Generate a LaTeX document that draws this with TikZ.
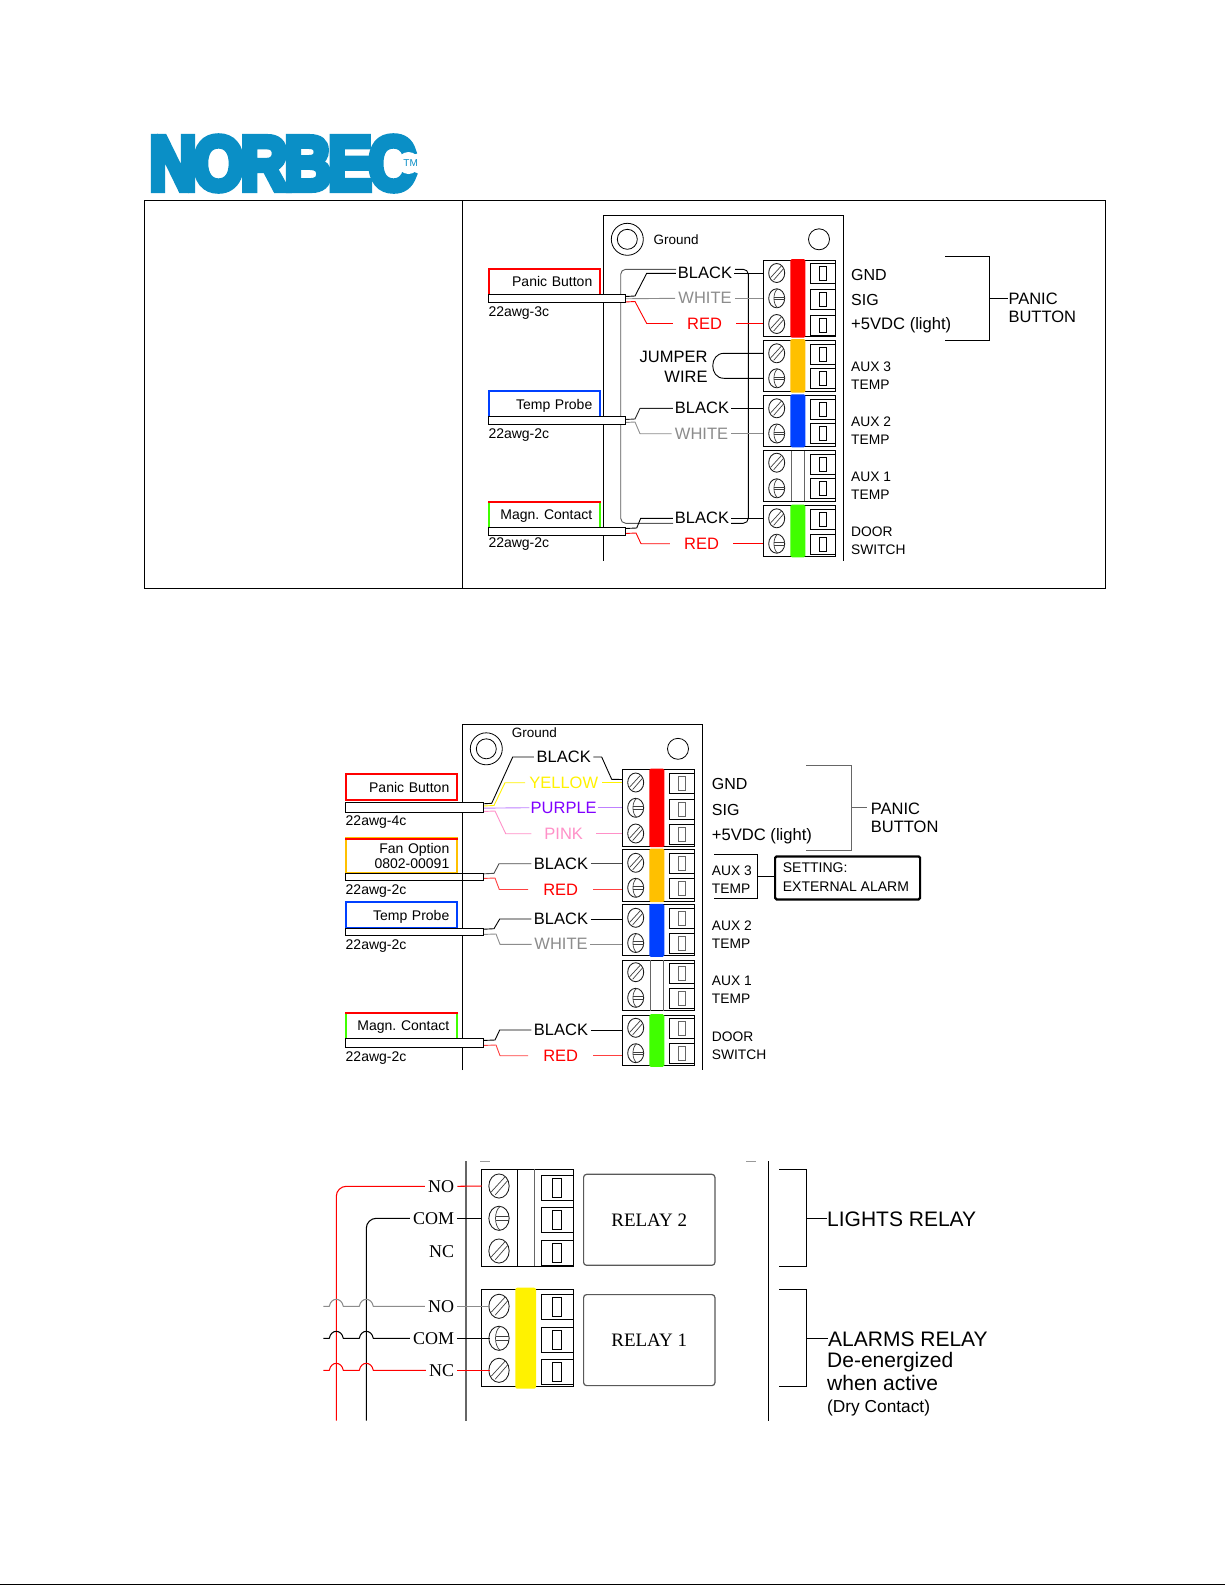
\documentclass[tikz,border=0pt]{standalone}
\usepackage{fontspec}
\usepackage{graphicx}
\setmainfont{Liberation Sans}
\newfontfamily\nbserif{Liberation Serif}
\newfontfamily\nblogo[FakeBold=9,LetterSpace=-5]{Liberation Sans}
\definecolor{logoblue}{HTML}{0A8FC6}
\definecolor{wgray}{HTML}{8C8C8C}
\definecolor{nborange}{HTML}{FFC000}
\definecolor{nbblue}{HTML}{0040FF}
\definecolor{nbgreen}{HTML}{40FF00}
\definecolor{nbpurple}{HTML}{8000FF}
\definecolor{nbpink}{HTML}{FF90C8}
\colorlet{nbinner}{black}
\tikzset{
  wire/.style={line width=.9pt,line join=round},
  frameline/.style={line width=.9pt,draw=black},
  screwline/.style={line width=.85pt,draw=black!90},
  slotline/.style={line width=.7pt,draw=black!75},
  wl/.style={font=\fontsize{16.5}{16.5}\selectfont,inner ysep=0pt,inner xsep=#1,anchor=center},
  wl/.default=2.5pt,
  txtA/.style={font=\fontsize{16}{16}\selectfont,anchor=base west,inner sep=0pt},
  txtB/.style={font=\fontsize{13.8}{14}\selectfont,anchor=base west,inner sep=0pt},
  lbox/.style={draw=#1,line width=2pt,inner xsep=8pt,inner ysep=0pt,text width=95pt,align=right,
    font=\fontsize{14}{15}\selectfont,anchor=north west,minimum height=26.3pt,text height=10pt,text depth=0pt},
  cablebox/.style={draw=black,fill=white,line width=.9pt,anchor=north west,inner sep=0pt},
  relaybox/.style={draw=black!65,line width=1.2pt,rounded corners=3pt,inner sep=0pt,
    font=\nbserif\fontsize{19}{19}\selectfont,minimum width=131.3pt,minimum height=91pt},
  rl/.style={font=\nbserif\fontsize{18}{18}\selectfont,inner ysep=0pt,inner xsep=3pt,anchor=east},
  bigtxt/.style={anchor=base west,inner sep=0pt,font=\fontsize{21}{21}\selectfont},
}
% name, x, y, block west x, scale
\newcommand{\nbScrewA}[5]{%
  \coordinate (#1) at (#2,#3);\coordinate (#1w) at (#4,#3);
  \begin{scope}[shift={(#2,#3)},scale=#5]
    \draw[screwline] (0,0) ellipse[x radius=8,y radius=9.5];
    \draw[slotline] (-6,4.5) -- (5,-7.5) (-3,7) -- (7,-4.5);
  \end{scope}}
\newcommand{\nbScrewB}[5]{%
  \coordinate (#1) at (#2,#3);\coordinate (#1w) at (#4,#3);
  \begin{scope}[shift={(#2,#3)},scale=#5]
    \draw[screwline] (0,0) ellipse[x radius=8,y radius=9.5];
    \draw[slotline] (1,-9.5) .. controls (-4,-6) and (-4,6) .. (1,9.5);
    \draw[slotline] (-2.5,-1.3) -- (8,-1.3) (-2.5,1.3) -- (8,1.3);
  \end{scope}}
% x1,x2,inner x1,inner x2,y centre,half height,inner half height
\newcommand{\nbSq}[7]{%
  \pgfmathsetmacro{\nbya}{#5-#6}\pgfmathsetmacro{\nbyb}{#5+#6}%
  \pgfmathsetmacro{\nbyc}{#5-#7}\pgfmathsetmacro{\nbyd}{#5+#7}%
  \draw[frameline,fill=white] (#1,\nbya) rectangle (#2,\nbyb);
  \draw[line width=.8pt,draw=nbinner] (#3,\nbyc) rectangle (#4,\nbyd);}
\newcommand{\nbTsq}[1]{\nbSq{810.3}{835.7}{819}{826.7}{#1}{10}{7}}
\newcommand{\nbBlock}[3]{\draw[frameline] (763.3,#1) rectangle (835.7,#2);
  \fill[#3,rounded corners=1.5pt] (790.3,#1-1) rectangle (805.3,#2+1);}
\newcommand{\nbTerminals}{%
  \draw[frameline] (603.3,560.7) |- (843.3,215.3) -- (843.3,560.7);
  \draw[line width=.8pt] (627.3,239.3) circle[radius=16] (627.3,239.3) circle[radius=10];
  \draw[line width=.8pt] (819,239.3) circle[radius=10.5];
  \nbBlock{260}{336.7}{red}
  \nbBlock{340}{391.7}{nborange}
  \nbBlock{395.3}{446.3}{nbblue}
  \draw[frameline] (763.3,450.7) rectangle (835.7,501.3);
  \draw[line width=.7pt,draw=black!60] (791.3,450.7) -- (791.3,501.3) (804.7,450.7) -- (804.7,501.3);
  \nbBlock{505.7}{556.3}{nbgreen}
  \nbScrewA{s11}{776.7}{273}{763.3}{1}\nbScrewB{s12}{776.7}{298.3}{763.3}{1}\nbScrewA{s13}{776.7}{324}{763.3}{1}
  \nbScrewA{s21}{776.7}{353.3}{763.3}{1}\nbScrewB{s22}{776.7}{378.3}{763.3}{1}
  \nbScrewA{s31}{776.7}{408.3}{763.3}{1}\nbScrewB{s32}{776.7}{433.5}{763.3}{1}
  \nbScrewA{s41}{776.7}{462.7}{763.3}{1}\nbScrewB{s42}{776.7}{488.3}{763.3}{1}
  \nbScrewA{s51}{776.7}{518.3}{763.3}{1}\nbScrewB{s52}{776.7}{543.7}{763.3}{1}
  \nbTsq{273.5}\nbTsq{299.5}\nbTsq{325}
  \nbTsq{354}\nbTsq{378.5}
  \nbTsq{409}\nbTsq{433.5}
  \nbTsq{464}\nbTsq{488.5}
  \nbTsq{519}\nbTsq{544}}
\begin{document}
\begin{tikzpicture}[x=1pt,y=-1pt]
\useasboundingbox (0,0) rectangle (1225,1585);
\fill[white] (0,0) rectangle (1225,1585);
\draw[line width=1.4pt] (0,1584.3) -- (1225,1584.3);
% logo
\node[inner sep=0pt,text=logoblue] (logo) at (282.5,163.5) {\resizebox{266pt}{53pt}{\nblogo\bfseries NORBEC}};
\fill[white] (408.5,163) circle[radius=11];
\node[inner sep=0pt,text=logoblue,font=\fontsize{10}{10}\selectfont] (tm) at (410.7,163) {TM};
% table
\draw[line width=1pt] (144.5,200.3) rectangle (1105.3,588.3) (462.3,200.3) -- (462.3,588.3);

%%%%%% top panel
\begin{scope}[name prefix=a-]
  \nbTerminals
\end{scope}
\node[font=\fontsize{13.5}{13.5}\selectfont,anchor=base west,inner sep=0pt] (a-gnd) at (653.3,244) {Ground};
% ground loop
\coordinate (a-lt) at (676,269.3);\coordinate (a-lb) at (673,523.3);
\coordinate (a-rt) at (735,269.3);\coordinate (a-rb) at (731,523.3);
\draw[line width=.9pt,draw=black!65,rounded corners=5pt] (a-lt) -- (620.7,269.3) -- (620.7,523.3) -- (a-lb);
\draw[line width=.9pt,rounded corners=5pt] (a-rt) -- (748.3,269.3) -- (748.3,523.3) -- (a-rb);
% boxes
\node[lbox=red] (a-pb) at (488.3,267.7) {Panic Button};
\node[lbox=nbblue] (a-tp) at (488.3,390) {Temp Probe};
\node[lbox=nbgreen] (a-mc) at (488.3,500.5) {Magn.\ Contact};
\draw[red,line width=1.5pt] ([yshift=-1.5pt]a-mc.north west) -- ([yshift=-1.5pt]a-mc.north east);
% cables
\node[cablebox,minimum width=137pt,minimum height=8pt] (a-c1) at (488.3,294.3) {};
\node[cablebox,minimum width=137pt,minimum height=8pt] (a-c2) at (488.3,416.3) {};
\node[cablebox,minimum width=137pt,minimum height=8pt] (a-c3) at (488.3,526.7) {};
\node[txtB,font=\fontsize{14}{14}\selectfont] (a-w1) at (488.3,316) {22awg-3c};
\node[txtB,font=\fontsize{14}{14}\selectfont] (a-w2) at (488.3,438.6) {22awg-2c};
\node[txtB,font=\fontsize{14}{14}\selectfont] (a-w3) at (488.3,547.8) {22awg-2c};
% panic wires
\node[wl=2pt] (a-l1) at (705,273.3) {BLACK};
\node[wl=3pt,text=wgray] (a-l2) at (705,298.3) {WHITE};
\node[wl=14pt,text=red] (a-l3) at (704.5,323.5) {RED};
\draw[wire] ([yshift=2.3pt]a-c1.east) -- (635,296) -- (646.7,273.3) -- (a-l1.west);
\draw[wire] (a-l1.east) -- (a-l1.east -| a-s11w);
\draw[wire,draw=wgray] (a-c1.east) -- (a-l2.west);
\draw[wire,draw=wgray] (a-l2.east) -- (a-l2.east -| a-s12w);
\draw[wire,red] ([yshift=-3.2pt]a-c1.east) -- (635,301.5) -- (646.7,323.5) -- (a-l3.west);
\draw[wire,red] (a-l3.east) -- (a-l3.east -| a-s13w);
% jumper
\draw[wire] (a-s21w) -- (724,353.3) .. controls (709,353.3) and (709,378.3) .. (724,378.3) -- (a-s22w);
\node[wl=0pt,anchor=east] (a-j1) at (707.7,356.7) {JUMPER};
\node[wl=0pt,anchor=east] (a-j2) at (707.7,376.5) {WIRE};
% temp probe wires
\node[wl=2pt] (a-l4) at (702,408.3) {BLACK};
\node[wl=3pt,text=wgray] (a-l5) at (701.5,433.7) {WHITE};
\draw[wire,draw=black!85] ([yshift=1.3pt]a-c2.east) -- (635,419) -- (640,408.3) -- (a-l4.west);
\draw[wire] (a-l4.east) -- (a-l4.east -| a-s31w);
\draw[wire,draw=wgray] ([yshift=-1.7pt]a-c2.east) -- (635,422) -- (640,433.7) -- (a-l5.west);
\draw[wire,draw=wgray] (a-l5.east) -- (a-l5.east -| a-s32w);
% door wires
\node[wl=2pt] (a-l6) at (702,518.3) {BLACK};
\node[wl=14pt,text=red] (a-l7) at (701.5,543.7) {RED};
\draw[wire] ([yshift=2.7pt]a-c3.east) -- (636.7,528) -- (640.7,518.3) -- (a-l6.west);
\draw[wire] (a-l6.east) -- (a-l6.east -| a-s51w);
\draw[wire,red] ([yshift=-2.3pt]a-c3.east) -- (636,533) -- (641,543.7) -- (a-l7.west);
\draw[wire,red] (a-l7.east) -- (a-l7.east -| a-s52w);
% right labels
\node[txtA] (a-t1) at (851,280.8) {GND};
\node[txtA] (a-t2) at (851,305.8) {SIG};
\node[txtA,font=\fontsize{16.6}{16.6}\selectfont] (a-t3) at (851,329.8) {+5VDC (light)};
\node[txtB] (a-t4) at (851,371) {AUX 3};
\node[txtB] (a-t5) at (851,389) {TEMP};
\node[txtB] (a-t6) at (851,426) {AUX 2};
\node[txtB] (a-t7) at (851,444) {TEMP};
\node[txtB] (a-t8) at (851,481) {AUX 1};
\node[txtB] (a-t9) at (851,499) {TEMP};
\node[txtB] (a-t10) at (851,536) {DOOR};
\node[txtB] (a-t11) at (851,554) {SWITCH};
\node[txtA,font=\fontsize{16.5}{16.5}\selectfont] (a-pa) at (1008.3,304) {PANIC};
\node[txtA,font=\fontsize{16.5}{16.5}\selectfont] (a-bu) at (1008.3,322.6) {BUTTON};
\coordinate (a-bt) at (945,256.3);\coordinate (a-bb) at (945,340);\coordinate (a-bm) at (989.3,298.5);
\draw[line width=.9pt] (a-bt) -- (989.3,256.3) -- (989.3,340) -- (a-bb);
\draw[line width=.9pt] (a-bm) -- (a-bm -| a-pa.west);

%%%%%% second panel
\colorlet{nbinner}{black!60}
\begin{scope}[shift={(-141,509.5)},name prefix=b-]
  \nbTerminals
\end{scope}
\colorlet{nbinner}{black}
\node[font=\fontsize{13.5}{13.5}\selectfont,anchor=base west,inner sep=0pt] (b-gnd) at (511.7,737.5) {Ground};
\node[lbox=red] (b-pb) at (345.3,773) {Panic Button};
\node[lbox=nborange,minimum height=34.4pt,text height=,text depth=] (b-fo) at (345.3,837.3) {Fan Option\\0802-00091};
\draw[red,line width=1.5pt] ([yshift=-1.5pt]b-fo.north west) -- ([yshift=-1.5pt]b-fo.north east);
\node[lbox=nbblue] (b-tp) at (345.3,901) {Temp Probe};
\node[lbox=nbgreen] (b-mc) at (345.3,1011.7) {Magn.\ Contact};
\draw[red,line width=1.5pt] ([yshift=-1.5pt]b-mc.north west) -- ([yshift=-1.5pt]b-mc.north east);
\node[cablebox,minimum width=138pt,minimum height=10.6pt] (b-c1) at (345.3,801.7) {};
\node[cablebox,minimum width=138pt,minimum height=7.5pt] (b-c2) at (345.3,872.7) {};
\node[cablebox,minimum width=138pt,minimum height=7.5pt] (b-c3) at (345.3,927.7) {};
\node[cablebox,minimum width=138pt,minimum height=8.3pt] (b-c4) at (345.3,1038.3) {};
\draw[frameline] (462.3,872.7) -- (462.3,880.2);
\node[txtB,font=\fontsize{14}{14}\selectfont] (b-w1) at (345.5,825.7) {22awg-4c};
\node[txtB,font=\fontsize{14}{14}\selectfont] (b-w2) at (345.5,894.3) {22awg-2c};
\node[txtB,font=\fontsize{14}{14}\selectfont] (b-w3) at (345.5,949.7) {22awg-2c};
\node[txtB,font=\fontsize{14}{14}\selectfont] (b-w4) at (345.5,1061) {22awg-2c};
% panic
\node[wl] (b-l1) at (563.7,757) {BLACK};
\node[wl=4pt,text=yellow] (b-l2) at (563.7,782.7) {YELLOW};
\node[wl=1pt,text=nbpurple] (b-l3) at (563.7,807.7) {PURPLE};
\node[wl=13pt,text=nbpink] (b-l4) at (563.7,833.7) {PINK};
\draw[wire] ([yshift=3.7pt]b-c1.east) -- (491.7,803.3) -- (512.7,757) -- (b-l1.west);
\draw[wire] (b-l1.east) -- (601.7,757) -- (611.7,779.3) -- ([yshift=3pt]b-s11w);
\draw[wire,yellow] ([yshift=1.5pt]b-c1.east) -- (494,805.5) -- (505,782.7) -- (b-l2.west);
\draw[wire,yellow] (b-l2.east) -- (b-l2.east -| b-s11w);
\draw[wire,draw=nbpurple!50] ([yshift=-.7pt]b-c1.east) -- (b-l3.west);
\draw[wire,draw=nbpurple!50] (b-l3.east) -- (b-l3.east -| b-s12w);
\draw[wire,draw=nbpink] ([yshift=-4pt]b-c1.east) -- (495,811) -- (505.7,833.7) -- (b-l4.west);
\draw[wire,draw=nbpink] (b-l4.east) -- (b-l4.east -| b-s13w);
% fan
\node[wl] (b-l5) at (561,863.7) {BLACK};
\node[wl=15pt,text=red] (b-l6) at (560.7,889.5) {RED};
\draw[wire,draw=black!70] ([yshift=3.1pt]b-c2.east) -- (494,873.3) -- (499,863.7) -- (b-l5.west);
\draw[wire,draw=black!70] (b-l5.east) -- (b-l5.east -| b-s21w);
\draw[wire,draw=red!75] ([yshift=-1.5pt]b-c2.east) -- (495,878) -- (499.3,889.5) -- (b-l6.west);
\draw[wire,draw=red!75] (b-l6.east) -- (b-l6.east -| b-s22w);
% temp
\node[wl] (b-l7) at (561,919) {BLACK};
\node[wl,text=wgray] (b-l8) at (561,944.3) {WHITE};
\draw[wire] ([yshift=2.7pt]b-c3.east) -- (494,928.7) -- (499.7,919) -- (b-l7.west);
\draw[wire] (b-l7.east) -- (b-l7.east -| b-s31w);
\draw[wire,draw=wgray] ([yshift=-2.5pt]b-c3.east) -- (496,934) -- (500,944.3) -- (b-l8.west);
\draw[wire,draw=wgray] (b-l8.east) -- (b-l8.east -| b-s32w);
% door
\node[wl] (b-l9) at (561,1030) {BLACK};
\node[wl=15pt,text=red] (b-l10) at (560.7,1055.7) {RED};
\draw[wire] ([yshift=2.5pt]b-c4.east) -- (495,1040) -- (499.7,1030) -- (b-l9.west);
\draw[wire] (b-l9.east) -- (b-l9.east -| b-s51w);
\draw[wire,draw=red!75] ([yshift=-2.5pt]b-c4.east) -- (496,1045) -- (500,1055.7) -- (b-l10.west);
\draw[wire,draw=red!75] (b-l10.east) -- (b-l10.east -| b-s52w);
% right labels
\node[txtA] (b-t1) at (711.7,789) {GND};
\node[txtA] (b-t2) at (711.7,815) {SIG};
\node[txtA,font=\fontsize{16.6}{16.6}\selectfont] (b-t3) at (711.7,840) {+5VDC (light)};
\node[txtB] (b-t4) at (711.7,875) {AUX 3};
\node[txtB] (b-t5) at (711.7,893) {TEMP};
\node[txtB] (b-t6) at (711.7,930) {AUX 2};
\node[txtB] (b-t7) at (711.7,948) {TEMP};
\node[txtB] (b-t8) at (711.7,985) {AUX 1};
\node[txtB] (b-t9) at (711.7,1003) {TEMP};
\node[txtB] (b-t10) at (711.7,1041) {DOOR};
\node[txtB] (b-t11) at (711.7,1059) {SWITCH};
\node[txtA,font=\fontsize{16.5}{16.5}\selectfont] (b-pa) at (870.7,814) {PANIC};
\node[txtA,font=\fontsize{16.5}{16.5}\selectfont] (b-bu) at (870.7,832.6) {BUTTON};
\coordinate (b-bt) at (806,765);\coordinate (b-bb) at (806,850);\coordinate (b-bm) at (851.7,807.3);
\draw[line width=.8pt,draw=black!60] (b-bt) -- (851.7,765) -- (851.7,850) -- (b-bb);
\draw[line width=.8pt,draw=black!60] (b-bm) -- (866.7,807.3);
% setting box
\node[draw,line width=2.2pt,rounded corners=1.5pt,minimum width=145pt,minimum height=43pt,anchor=north west,inner sep=0pt] (b-set) at (774,855.3) {};
\node[txtB,font=\fontsize{14}{14}\selectfont] (b-s1) at (782.7,872.3) {SETTING:};
\node[txtB,font=\fontsize{14}{14}\selectfont] (b-s2) at (782.7,891) {EXTERNAL ALARM};
\coordinate (b-at) at (714,854.3);\coordinate (b-ab) at (714,898.3);\coordinate (b-am) at (757.3,876.7);
\draw[line width=.7pt] (b-at) -- (757.3,854.3) -- (757.3,898.3) -- (b-ab);
\draw[line width=.8pt] (b-am) -- (b-am -| b-set.west);

%%%%%% relays
\draw[line width=1.3pt,draw=black!60] (466,1161) -- (466,1420.7);
\draw[line width=.8pt] (768.3,1161) -- (768.3,1420.7);
\draw[line width=.7pt,draw=black!40] (480,1161.5) -- (490,1161.5) (746,1161.5) -- (756,1161.5);
\draw[frameline] (481.7,1169.3) rectangle (573.7,1266.3);
\draw[frameline] (517.3,1169.3) -- (517.3,1266.3);
\draw[line width=.7pt,draw=black!60] (534.3,1169.3) -- (534.3,1266.3);
\draw[frameline] (481.7,1289.3) rectangle (573.7,1386.3);
\fill[yellow,rounded corners=2pt] (515.3,1287.7) rectangle (536,1388.7);
\nbScrewA{r1}{499}{1186}{481.7}{1.27}
\nbScrewB{r2}{499}{1218.3}{481.7}{1.27}
\nbScrewA{r3}{499}{1251}{481.7}{1.27}
\nbScrewA{r4}{499}{1306.3}{490}{1.27}
\nbScrewB{r5}{499}{1338.3}{490}{1.27}
\nbScrewA{r6}{499}{1370.3}{490}{1.27}
\newcommand{\nbRsq}[1]{\nbSq{541.3}{573.7}{552.3}{561.3}{#1}{12.5}{9.5}}
\nbRsq{1188}\nbRsq{1220.2}\nbRsq{1252.6}
\nbRsq{1307.3}\nbRsq{1339.8}\nbRsq{1372.3}
\node[relaybox,anchor=north west] (rel2) at (583,1173.7) {RELAY 2};
\node[relaybox,anchor=north west] (rel1) at (583,1294) {RELAY 1};
\node[rl] (n1) at (457.3,1186.3) {NO};
\node[rl] (n2) at (457.3,1218.3) {COM};
\node[rl] (n3) at (457.3,1251.5) {NC};
\node[rl] (n4) at (457.3,1306.3) {NO};
\node[rl] (n5) at (457.3,1338.3) {COM};
\node[rl] (n6) at (457.3,1371) {NC};
\coordinate (red0) at (336.3,1420.7);\coordinate (blk0) at (366.3,1420.7);
\coordinate (gs) at (323.3,1306.3);\coordinate (ks) at (323.3,1338.3);\coordinate (rs) at (323.3,1370.3);
\tikzset{wire/.style={line width=1.05pt,line join=round}}
\draw[wire,red,rounded corners=10pt] (red0) -- (336.3,1186.3) -- (n1.west);
\draw[wire,rounded corners=10pt] (blk0) -- (366.3,1218.3) -- (n2.west);
\draw[wire,red] (n1.east) -- (r1w);
\draw[wire] (n2.east) -- (r2w);
\draw[wire,draw=wgray] (gs) -- (329.3,1306.3) .. controls (331,1297) and (341.5,1297) .. (343.3,1306.3) -- (359.3,1306.3) .. controls (361,1297) and (371.5,1297) .. (373.3,1306.3) -- (n4.west);
\draw[wire,draw=wgray] (n4.east) -- (r4w);
\draw[wire] (ks) -- (329.3,1338.3) .. controls (331,1329) and (341.5,1329) .. (343.3,1338.3) -- (359.3,1338.3) .. controls (361,1329) and (371.5,1329) .. (373.3,1338.3) -- (n5.west);
\draw[wire] (n5.east) -- (r5w);
\draw[wire,red] (rs) -- (329.3,1370.3) .. controls (331,1361) and (341.5,1361) .. (343.3,1370.3) -- (359.3,1370.3) .. controls (361,1361) and (371.5,1361) .. (373.3,1370.3) -- (n6.west |- rs);
\draw[wire,red] (n6.east |- rs) -- (r6w);
% brackets
\node[bigtxt] (lr) at (827,1226.5) {LIGHTS RELAY};
\node[bigtxt] (ar) at (828,1346) {ALARMS RELAY};
\node[bigtxt] (de) at (827,1367.5) {De-energized};
\node[bigtxt] (wa) at (827,1390) {when active};
\node[bigtxt,font=\fontsize{17.3}{17.3}\selectfont] (dc) at (827,1412.5) {(Dry Contact)};
\coordinate (lb1) at (779,1169.3);\coordinate (lb2) at (779,1266.3);\coordinate (lm) at (806.3,1218.3);
\coordinate (ab1) at (779,1289.3);\coordinate (ab2) at (779,1386);\coordinate (am) at (806.3,1338.3);
\draw[line width=.8pt] (lb1) -- (806.3,1169.3) -- (806.3,1266.3) -- (lb2);
\draw[line width=.8pt] (lm) -- (lm -| lr.west);
\draw[line width=.8pt] (ab1) -- (806.3,1289.3) -- (806.3,1386) -- (ab2);
\draw[line width=.8pt] (am) -- (am -| ar.west);
\end{tikzpicture}
\end{document}
